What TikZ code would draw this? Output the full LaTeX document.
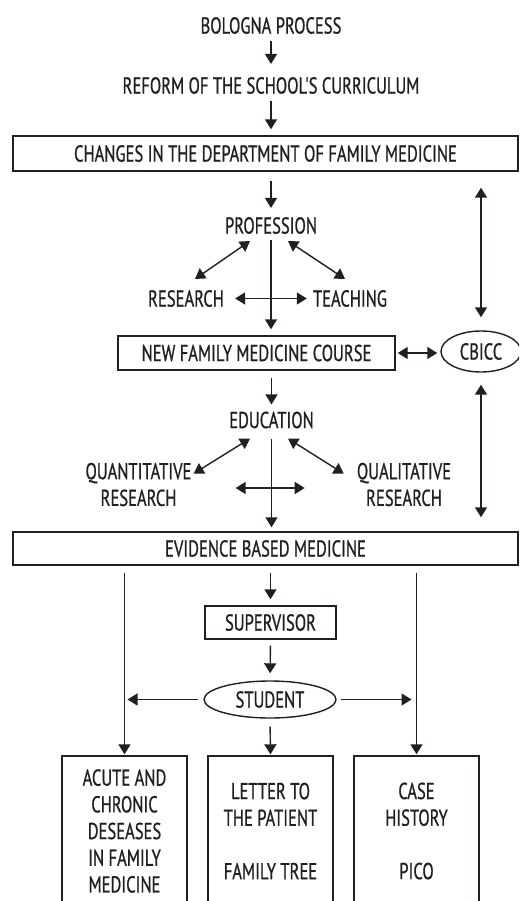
\documentclass[tikz,border=0pt]{standalone}
\usepackage{fontspec}
\setmainfont[FakeStretch=0.72,FakeBold=0.8,Ligatures=TeXOff]{PT Sans}
\usetikzlibrary{arrows.meta,shapes.geometric,calc}
\definecolor{ink}{HTML}{231F20}
\begin{document}
\begin{tikzpicture}[x=1pt,y=-1pt,
  every node/.style={font=\fontsize{23}{26.7}\selectfont, text=ink, inner sep=0pt},
  box/.style={draw=ink, line width=1.4pt, rectangle},
  oval/.style={draw=ink, line width=1.4pt, ellipse},
  arr/.style={-{Triangle[length=10pt,width=12pt]}, line width=1.4pt, draw=ink},
  dbl/.style={{Triangle[length=10pt,width=12pt]}-{Triangle[length=10pt,width=12pt]}, line width=1.4pt, draw=ink},
  tallbox/.style={box, minimum width=125pt, minimum height=150pt, align=center},
]
\useasboundingbox (0,0) rectangle (519,901);
\clip (0,0) rectangle (519,901);

% top chain
\node (bologna) at (271,25.5) {BOLOGNA PROCESS};
\node (reform) at (271,85.5) {REFORM OF THE SCHOOL'S CURRICULUM};
\node[box, minimum width=505pt, minimum height=35pt] (changes) at (265.5,153.5) {CHANGES IN THE DEPARTMENT OF FAMILY MEDICINE};

% profession block
\node (profession) at (271,225.5) {PROFESSION};
\node (research) at (186,298.5) {RESEARCH};
\node (teaching) at (350,298.5) {TEACHING};
\node[box, minimum width=277pt, minimum height=34pt] (course) at (256.5,353) {NEW FAMILY MEDICINE COURSE};
\node[oval, minimum width=80pt, minimum height=41pt] (cbicc) at (481,351.5) {CBICC};

% education block
\node (education) at (271.5,420) {EDUCATION};
\node[align=center] (quant) at (138.5,484.5) {QUANTITATIVE\\RESEARCH};
\node[align=center] (qual) at (404,484.5) {QUALITATIVE\\RESEARCH};
\node[box, minimum width=505pt, minimum height=33pt] (evidence) at (265.5,548.5) {EVIDENCE BASED MEDICINE};

% supervision block
\node[box, minimum width=131pt, minimum height=33pt] (supervisor) at (270.5,622.5) {SUPERVISOR};
\node[oval, minimum width=132pt, minimum height=37pt] (student) at (270,699.5) {STUDENT};

% assignments
\node[tallbox] (leftbox) at (124.5,831) {ACUTE AND\\CHRONIC\\DESEASES\\IN FAMILY\\MEDICINE};
\node[tallbox] (midbox) at (270.5,831) {LETTER TO\\THE PATIENT\\\strut\\FAMILY TREE};
\node[tallbox] (rightbox) at (416.5,831) {CASE\\HISTORY\\\strut\\PICO};

% connectors
\draw[arr, shorten <=7pt, shorten >=13pt] (bologna.south) -- (reform.north);
\draw[arr, shorten <=7pt, shorten >=6pt] (reform.south) -- (reform.south |- changes.north);
\draw[arr, shorten <=9pt, shorten >=9pt] (changes.south -| profession) -- (profession.north);
\draw[arr, shorten <=6pt, shorten >=6pt] (profession.south) -- (profession.south |- course.north);
\draw[dbl] ($(profession.south)+(-21,7)$) -- ($(research.north)+(9,-11)$);
\draw[dbl] ($(profession.south)+(17,7)$) -- ($(teaching.north)+(-5,-11)$);
\draw[dbl, shorten <=11pt, shorten >=6pt] (research.east) -- (teaching.west);
\draw[dbl, shorten <=2pt, shorten >=3pt] (course.east) -- (course.east -| cbicc.west);
\draw[dbl, shorten <=16pt, shorten >=13pt] (changes.south -| cbicc) -- (cbicc.north);
\draw[dbl, shorten <=12pt, shorten >=14pt] (cbicc.south) -- (cbicc.south |- evidence.north);

\draw[arr, shorten <=7pt, shorten >=7pt] (course.south -| education) -- (education.north);
\draw[arr, shorten <=10pt, shorten >=4pt] (education.south) -- (education.south |- evidence.north);
\draw[dbl] ($(education.south)+(-21.5,10)$) -- ($(quant.north east)+(2,11)$);
\draw[dbl] ($(education.south)+(16.5,10)$) -- ($(qual.north west)+(-13,11)$);
\draw[dbl] ($(quant.east)+(44,3.5)$) -- ($(qual.west)+(-52,3.5)$);

\draw[arr, shorten <=7pt, shorten >=6pt] (evidence.south -| supervisor) -- (supervisor.north);
\draw[arr, shorten <=6pt, shorten >=7pt] (supervisor.south) -- (student.north);
\draw[arr, shorten <=8pt, shorten >=1pt] (student.south) -- (midbox.north);
\draw[arr, shorten <=7pt, shorten >=1pt] (evidence.south -| leftbox.north) -- (leftbox.north);
\draw[arr, shorten <=7pt, shorten >=1pt] (evidence.south -| rightbox.north) -- (rightbox.north);
\draw[arr, shorten <=5pt, shorten >=3pt] (student.west) -- (student.west -| leftbox.north);
\draw[arr, shorten <=4pt, shorten >=5pt] (student.east) -- (student.east -| rightbox.north);
\end{tikzpicture}
\end{document}
